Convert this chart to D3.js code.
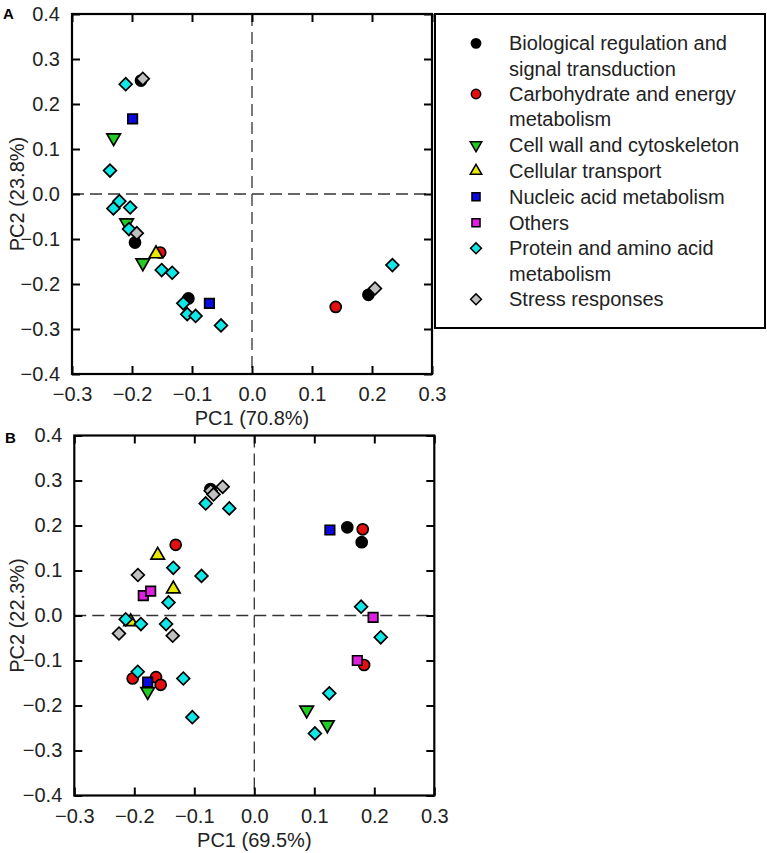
<!DOCTYPE html>
<html><head><meta charset="utf-8">
<script src="https://cdn.jsdelivr.net/npm/d3@7"></script>
<style>
html,body{margin:0;padding:0;background:#fff;}
svg text{font-family:"Liberation Sans",Arial,sans-serif;}
</style></head>
<body><svg id="c" width="767" height="853"></svg>
<script>
// ---- data ----
const categories = [
  "Biological regulation and signal transduction",
  "Carbohydrate and energy metabolism",
  "Cell wall and cytoskeleton",
  "Cellular transport",
  "Nucleic acid metabolism",
  "Others",
  "Protein and amino acid metabolism",
  "Stress responses"
];
const legendLines = [
  ["Biological regulation and","signal transduction"],
  ["Carbohydrate and energy","metabolism"],
  ["Cell wall and cytoskeleton"],
  ["Cellular transport"],
  ["Nucleic acid metabolism"],
  ["Others"],
  ["Protein and amino acid","metabolism"],
  ["Stress responses"]
];
const xTicks = [-0.3,-0.2,-0.1,0.0,0.1,0.2,0.3];
const yTicks = [-0.4,-0.3,-0.2,-0.1,0.0,0.1,0.2,0.3,0.4];

// Panel A (category index, PC1, PC2)
const A_cat = [0,0,0,0, 1,1, 2,2,2, 3, 4,4, 6,6,6,6,6,6,6,6,6,6,6,6,6, 7,7,7];
const A_pc1 = [-0.185,-0.195,-0.106,0.194, -0.153,0.1395, -0.2306,-0.209,-0.182, -0.160, -0.199,-0.071,
  -0.2105,-0.2367,-0.231,-0.221,-0.203,-0.205,-0.1505,-0.133,-0.1145,-0.108,-0.094,-0.0517,0.234,
  -0.182,-0.192,0.205];
const A_pc2 = [0.252,-0.108,-0.232,-0.224, -0.130,-0.251, 0.125,-0.064,-0.153, -0.133, 0.167,-0.243,
  0.244,0.052,-0.032,-0.016,-0.030,-0.078,-0.169,-0.175,-0.243,-0.267,-0.271,-0.292,-0.158,
  0.256,-0.087,-0.210];

// Panel B
const B_cat = [0,0,0, 1,1,1,1,1,1, 2,2,2, 3,3,3, 4,4, 5,5,5,5, 6,6,6,6,6,6,6,6,6,6,6,6,6,6,6, 7,7,7,7,7,7];
const B_pc1 = [-0.073,0.155,0.179, -0.131,-0.2027,-0.1638,-0.156,0.1807,0.183, -0.1777,0.0873,0.1217,
  -0.161,-0.135,-0.206, -0.1777,0.126, -0.185,-0.1727,0.198,0.1717,
  -0.081,-0.0417,-0.135,-0.088,-0.143,-0.2143,-0.189,-0.147,-0.1943,-0.1183,-0.1033,0.178,0.2107,0.125,0.101,
  -0.0727,-0.068,-0.0527,-0.194,-0.2255,-0.136];
const B_pc2 = [0.281,0.196,0.163, 0.157,-0.140,-0.137,-0.154,0.1915,-0.110, -0.169,-0.210,-0.243,
  0.134,0.059,-0.014, -0.148,0.190, 0.044,0.054,-0.004,-0.100,
  0.249,0.238,0.106,0.088,0.029,-0.0085,-0.019,-0.019,-0.125,-0.140,-0.226,0.0196,-0.0485,-0.173,-0.262,
  0.277,0.269,0.286,0.090,-0.040,-0.045];

const colors = ["#000000","#e41010","#22cc22","#e8e800","#0a0ae0","#e020e0","#10e8e8","#c0c0c0"];
const shapes = ["circle","circle","down","up","square","square","diamond","diamond"];

// ---- drawing ----
const svg = d3.select("#c");
const FONT = 20;

function symPath(shape, scale){
  const s = scale || 1;
  if(shape==="circle") return d3.symbol(d3.symbolCircle, 95*s*s)();
  if(shape==="square") return d3.symbol(d3.symbolSquare, 90*s*s)();
  if(shape==="diamond") return d3.symbol(d3.symbolSquare, 82*s*s)();
  return d3.symbol(d3.symbolTriangle, 80*s*s)();
}
function symRot(shape){
  if(shape==="diamond") return 45;
  if(shape==="down") return 180;
  return 0;
}

function panel(opt){
  const g = svg.append("g").attr("transform",`translate(${opt.left},${opt.top})`);
  const W = 360, H = 360;
  const x = d3.scaleLinear().domain([-0.3,0.3]).range([0,W]);
  const y = d3.scaleLinear().domain([-0.4,0.4]).range([H,0]);
  const fmt = d3.format(".1f");

  // dashed zero lines
  g.append("line").attr("x1",x(0)).attr("x2",x(0)).attr("y1",0).attr("y2",H)
    .attr("stroke","#333").attr("stroke-width",1.3).attr("stroke-dasharray","12,6");
  g.append("line").attr("x1",0).attr("x2",W).attr("y1",y(0)).attr("y2",y(0))
    .attr("stroke","#333").attr("stroke-width",1.3).attr("stroke-dasharray","12,6");

  const styleAxis = sel => {
    sel.select(".domain").remove();
    sel.selectAll(".tick line").attr("stroke","#000").attr("stroke-width",2);
    sel.selectAll(".tick text").attr("font-size",FONT).attr("fill","#222")
      .attr("font-family","Liberation Sans, Arial, sans-serif");
  };
  g.append("g").attr("transform",`translate(0,${H})`)
    .call(d3.axisBottom(x).tickValues(xTicks).tickFormat(fmt).tickSize(-8).tickPadding(13)).call(styleAxis);
  g.append("g")
    .call(d3.axisTop(x).tickValues(xTicks).tickFormat("").tickSize(-8)).call(styleAxis);
  g.append("g")
    .call(d3.axisLeft(y).tickValues(yTicks).tickFormat(fmt).tickSize(-8).tickPadding(12)).call(styleAxis);
  g.append("g").attr("transform",`translate(${W},0)`)
    .call(d3.axisRight(y).tickValues(yTicks).tickFormat("").tickSize(-8)).call(styleAxis);

  g.append("rect").attr("x",0).attr("y",0).attr("width",W).attr("height",H)
    .attr("fill","none").attr("stroke","#000").attr("stroke-width",2.2);

  // points, drawn in category order
  const pts = opt.cat.map((c,i)=>({c, px:opt.pc1[i], py:opt.pc2[i]})).sort((a,b)=>a.c-b.c);
  g.append("g").selectAll("path").data(pts).join("path")
    .attr("d",d=>symPath(shapes[d.c]))
    .attr("transform",d=>`translate(${x(d.px)},${y(d.py)}) rotate(${symRot(shapes[d.c])})`)
    .attr("fill",d=>colors[d.c]).attr("stroke","#000").attr("stroke-width",1.7);

  // titles
  svg.append("text").attr("x",opt.left+W/2).attr("y",opt.top+H+51)
    .attr("text-anchor","middle").attr("font-size",FONT).attr("fill","#222").text(opt.xTitle);
  svg.append("text").attr("transform",`translate(${opt.ytx},${opt.top+H/2}) rotate(-90)`)
    .attr("text-anchor","middle").attr("dy","0.35em").attr("font-size",FONT).attr("fill","#222").text(opt.yTitle);
  svg.append("text").attr("x",opt.lx).attr("y",opt.ly).attr("font-size",15).attr("font-weight","bold")
    .attr("fill","#000").text(opt.label);
}

panel({left:72, top:14, cat:A_cat, pc1:A_pc1, pc2:A_pc2,
  xTitle:"PC1 (70.8%)", yTitle:"PC2 (23.8%)", ytx:17, label:"A", lx:3, ly:19});
panel({left:74.3, top:435.5, cat:B_cat, pc1:B_pc1, pc2:B_pc2,
  xTitle:"PC1 (69.5%)", yTitle:"PC2 (22.3%)", ytx:17, label:"B", lx:5, ly:443});

// legend
const lg = svg.append("g");
lg.append("rect").attr("x",435).attr("y",14).attr("width",330).attr("height",314)
  .attr("fill","#fff").attr("stroke","#000").attr("stroke-width",2);
const rowStarts = [43.3, 94, 145, 171, 196.7, 222.7, 248.3, 299.3];
const lineH = 25.2;
categories.forEach((c,i)=>{
  const cy = rowStarts[i];
  lg.append("path").attr("d",symPath(shapes[i],0.85))
    .attr("transform",`translate(476,${cy}) rotate(${symRot(shapes[i])})`)
    .attr("fill",colors[i]).attr("stroke","#000").attr("stroke-width",1.5);
  legendLines[i].forEach((t,j)=>{
    lg.append("text").attr("x",509).attr("y",cy+j*lineH).attr("dy","0.35em")
      .attr("font-size",FONT).attr("fill","#222").text(t);
  });
});
</script></body></html>
